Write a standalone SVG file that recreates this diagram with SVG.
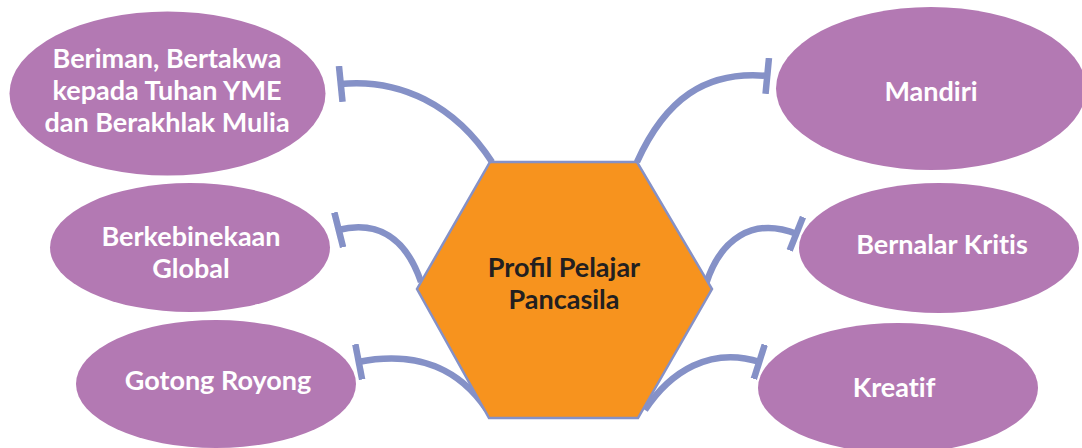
<svg xmlns="http://www.w3.org/2000/svg" width="1082" height="448" viewBox="0 0 1082 448">
<style>
.node{fill:#B379B3;}
.lbl{font-family:Lato,"Liberation Sans",sans-serif;font-weight:bold;font-size:27px;fill:#FFFFFF;text-anchor:middle;}
.noliga{font-variant-ligatures:none;}
.hex{fill:#F7931E;stroke:#8591C7;stroke-width:2.5;}
.hlbl{font-family:Lato,"Liberation Sans",sans-serif;font-weight:bold;font-size:27px;fill:#231F20;text-anchor:middle;}
.conn{fill:none;stroke:#8591C7;stroke-width:6.5;marker-end:url(#tee);}
</style>
<defs>
<marker id="tee" viewBox="0 0 8 36" refX="5" refY="18" markerWidth="8" markerHeight="36" orient="auto" markerUnits="userSpaceOnUse">
<rect x="1" y="0" width="6.5" height="36" fill="#8591C7"/>
</marker>
</defs>
<g id="connectors">
<path class="conn" d="M492,162 C455,105 400,78 340,84"/>
<path class="conn" d="M421,282 C406,238 378,220 338,230"/>
<path class="conn" d="M487,410 C460,370 420,350 358,362"/>
<path class="conn" d="M637,162 C665,100 705,70 768,76"/>
<path class="conn" d="M706,284 C720,240 752,216 797,234"/>
<path class="conn" d="M645,410 C670,372 710,346 760,362"/>
</g>
<g id="center">
<polygon class="hex" points="490,162 637,162 712,289 638,418 489,418 417,289"/>
<text class="hlbl" x="564" y="277">Profil Pelajar</text>
<text class="hlbl" x="564" y="309">Pancasila</text>
</g>
<g id="beriman">
<ellipse class="node" cx="167.5" cy="93.5" rx="158" ry="82"/>
<text class="lbl" x="167" y="68">Beriman, Bertakwa</text>
<text class="lbl" x="167" y="100">kepada Tuhan YME</text>
<text class="lbl" x="167" y="132">dan Berakhlak Mulia</text>
</g>
<g id="berkebinekaan">
<ellipse class="node" cx="190" cy="247.5" rx="140" ry="64.5"/>
<text class="lbl" x="191" y="246">Berkebinekaan</text>
<text class="lbl" x="191" y="278">Global</text>
</g>
<g id="gotong">
<ellipse class="node" cx="216" cy="384" rx="140" ry="64"/>
<text class="lbl" x="218" y="390">Gotong Royong</text>
</g>
<g id="mandiri">
<ellipse class="node" cx="931" cy="88.5" rx="155" ry="81.5"/>
<text class="lbl" x="931" y="101">Mandiri</text>
</g>
<g id="bernalar">
<ellipse class="node" cx="939" cy="248" rx="140" ry="65"/>
<text class="lbl noliga" x="942" y="254">Bernalar Kritis</text>
</g>
<g id="kreatif">
<ellipse class="node" cx="898" cy="388" rx="140" ry="65"/>
<text class="lbl noliga" x="894" y="397">Kreatif</text>
</g>
</svg>
